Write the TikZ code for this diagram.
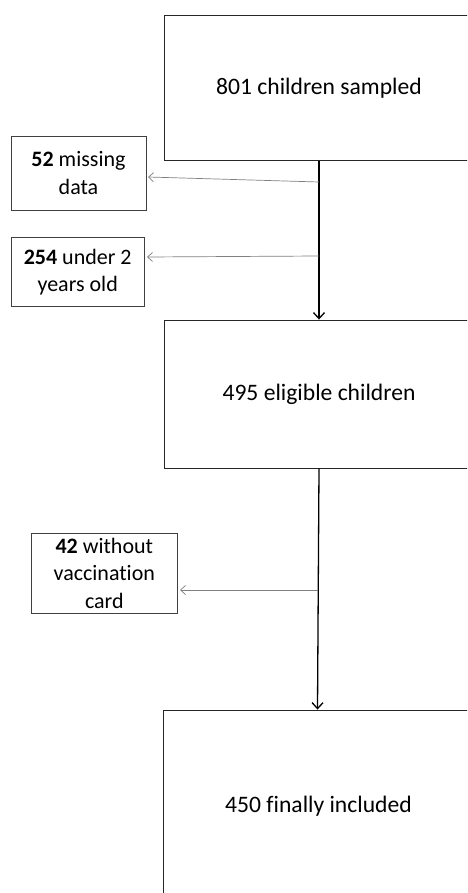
\documentclass[tikz,border=0pt]{standalone}
\usepackage{fontspec}
\setmainfont{Carlito}[Ligatures={NoCommon}]
\usetikzlibrary{arrows.meta}
\tikzset{
  bigbox/.style={draw=black!85, line width=0.9pt, inner sep=0pt, font=\fontsize{23.6}{28}\selectfont},
  sidebox/.style={draw=black!75, line width=0.8pt, inner sep=0pt, align=center, font=\fontsize{22}{27.5}\selectfont},
  mainarrow/.style={draw=black, line width=1.3pt, -{Straight Barb[length=6pt,width=11pt,line width=1.3pt]}},
  sidearrow/.style={draw=black!50, line width=0.7pt, -{Straight Barb[length=5pt,width=9pt,line width=0.7pt]}}
}
\begin{document}
\begin{tikzpicture}[x=1pt,y=-1pt]
\useasboundingbox (0,0) rectangle (467,893);
\clip (0,0) rectangle (467,893);
\fill[white] (0,0) rectangle (467,893);
% main boxes
\node[bigbox, minimum width=310pt, minimum height=145.5pt] (top) at (319,87.75) {801 children sampled};
\node[bigbox, minimum width=310pt, minimum height=148pt] (mid) at (319,394) {495 eligible children};
\node[bigbox, minimum width=311pt, minimum height=192pt] (bot) at (318.5,806) {450 finally included};
% side boxes
\node[sidebox, minimum width=135pt, minimum height=74pt] (miss) at (78.5,173) {\textbf{52} missing\\data};
\node[sidebox, minimum width=133.3pt, minimum height=68.3pt] (under) at (77.7,271.9) {\textbf{254} under 2\\years old};
\node[sidebox, minimum width=146.7pt, minimum height=80pt] (card) at (104.3,573.3) {\textbf{42} without\\vaccination\\card};
% junction points and arrow tips
\coordinate (j1) at (319,182);
\coordinate (j2) at (319,256);
\coordinate (j3) at (318,590);
\coordinate (t1) at (148,177);
\coordinate (t2) at (147,257);
\coordinate (t3) at (180,590);
% main arrows
\draw[mainarrow] (top.south) -- (mid.north);
\draw[mainarrow] (mid.south) -- ([xshift=-1pt]bot.north);
% side arrows
\draw[sidearrow] (j1) -- (t1);
\draw[sidearrow] (j2) -- (t2);
\draw[sidearrow] (j3) -- (t3);
\end{tikzpicture}
\end{document}
